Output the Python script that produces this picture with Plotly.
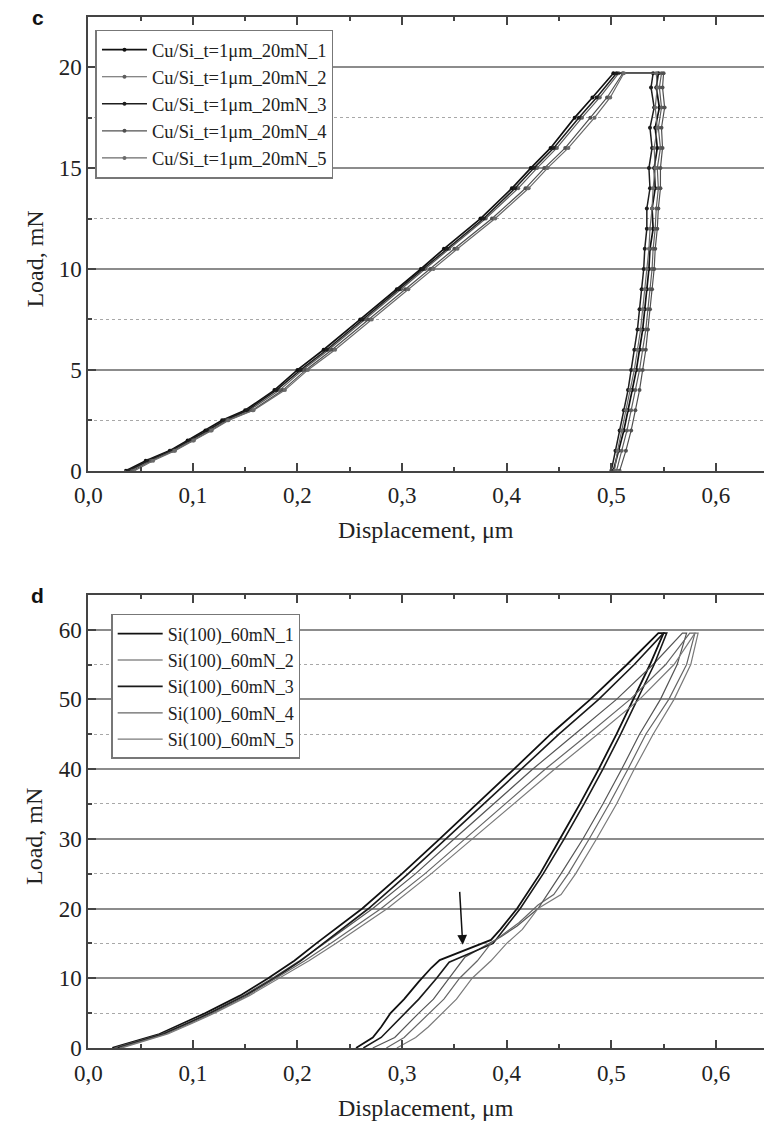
import plotly.graph_objects as go

# ---------------- Panel c : Cu/Si film, 20 mN ----------------
c_names = ["Cu/Si_t=1\u03bcm_20mN_1", "Cu/Si_t=1\u03bcm_20mN_2", "Cu/Si_t=1\u03bcm_20mN_3",
           "Cu/Si_t=1\u03bcm_20mN_4", "Cu/Si_t=1\u03bcm_20mN_5"]
c_load_up = [0, 0.5, 1, 1.5, 2, 2.5, 3, 4, 5, 6, 7.5, 9, 10, 11, 12.5, 14, 15, 16, 17.5, 18.5, 19.7]
c_disp_up = [
    [0.036, 0.055, 0.078, 0.095, 0.112, 0.128, 0.150, 0.178, 0.200, 0.225, 0.260, 0.295, 0.318, 0.340, 0.375, 0.405, 0.423, 0.442, 0.465, 0.482, 0.502],
    [0.040, 0.058, 0.080, 0.098, 0.115, 0.131, 0.154, 0.183, 0.205, 0.230, 0.265, 0.299, 0.322, 0.345, 0.380, 0.411, 0.429, 0.448, 0.472, 0.489, 0.507],
    [0.038, 0.057, 0.079, 0.097, 0.114, 0.130, 0.152, 0.180, 0.203, 0.228, 0.262, 0.297, 0.320, 0.343, 0.378, 0.408, 0.426, 0.445, 0.469, 0.486, 0.505],
    [0.042, 0.060, 0.082, 0.100, 0.117, 0.133, 0.157, 0.186, 0.208, 0.233, 0.268, 0.303, 0.327, 0.350, 0.386, 0.418, 0.436, 0.456, 0.480, 0.496, 0.511],
    [0.044, 0.062, 0.083, 0.101, 0.118, 0.134, 0.158, 0.188, 0.210, 0.236, 0.271, 0.306, 0.330, 0.353, 0.389, 0.421, 0.439, 0.459, 0.484, 0.499, 0.512],
]
c_load_down = [19.7, 19, 18, 17, 16, 15, 14, 13, 12, 11, 10, 9, 8, 7, 6, 5, 4, 3, 2, 1, 0]
c_disp_down = [
    [0.545, 0.543, 0.546, 0.542, 0.544, 0.541, 0.542, 0.539, 0.540, 0.537, 0.536, 0.534, 0.532, 0.530, 0.527, 0.524, 0.520, 0.516, 0.512, 0.507, 0.502],
    [0.548, 0.546, 0.548, 0.545, 0.547, 0.544, 0.545, 0.543, 0.542, 0.540, 0.539, 0.537, 0.535, 0.533, 0.530, 0.527, 0.523, 0.519, 0.515, 0.510, 0.505],
    [0.540, 0.538, 0.541, 0.537, 0.539, 0.536, 0.537, 0.534, 0.534, 0.532, 0.531, 0.529, 0.527, 0.525, 0.522, 0.519, 0.516, 0.512, 0.508, 0.504, 0.500],
    [0.550, 0.549, 0.551, 0.548, 0.549, 0.547, 0.547, 0.545, 0.544, 0.542, 0.541, 0.539, 0.537, 0.535, 0.533, 0.530, 0.527, 0.523, 0.519, 0.514, 0.508],
    [0.543, 0.544, 0.542, 0.544, 0.541, 0.542, 0.540, 0.539, 0.537, 0.536, 0.534, 0.532, 0.530, 0.528, 0.525, 0.522, 0.518, 0.514, 0.510, 0.506, 0.503],
]

# ---------------- Panel d : Si(100), 60 mN ----------------
d_names = ["Si(100)_60mN_1", "Si(100)_60mN_2", "Si(100)_60mN_3", "Si(100)_60mN_4", "Si(100)_60mN_5"]
d_load_up = [0, 1, 2, 3.5, 5, 7.5, 10, 12.5, 15, 20, 25, 30, 35, 40, 45, 50, 55, 59.5]
d_disp_up = [
    [0.023, 0.045, 0.068, 0.090, 0.112, 0.145, 0.172, 0.197, 0.218, 0.262, 0.300, 0.336, 0.372, 0.407, 0.442, 0.480, 0.515, 0.545],
    [0.025, 0.048, 0.070, 0.093, 0.115, 0.148, 0.176, 0.202, 0.226, 0.272, 0.313, 0.350, 0.388, 0.425, 0.465, 0.505, 0.540, 0.568],
    [0.028, 0.050, 0.072, 0.095, 0.117, 0.150, 0.178, 0.203, 0.225, 0.268, 0.306, 0.342, 0.378, 0.413, 0.450, 0.488, 0.522, 0.550],
    [0.030, 0.052, 0.074, 0.097, 0.119, 0.152, 0.180, 0.207, 0.232, 0.280, 0.322, 0.360, 0.398, 0.437, 0.478, 0.518, 0.552, 0.575],
    [0.032, 0.054, 0.076, 0.099, 0.121, 0.154, 0.183, 0.211, 0.237, 0.286, 0.328, 0.367, 0.406, 0.446, 0.487, 0.527, 0.560, 0.580],
]
d_load_down = [
    [59.5, 55, 50, 45, 40, 35, 30, 25, 20, 17, 15.5, 12.6, 11.5, 9.5, 7, 5, 3, 1.5, 0],
    [59.5, 55, 50, 45, 40, 35, 30, 25, 20, 17.5, 16, 13, 10, 7, 5, 3, 1.5, 0],
    [59.5, 55, 50, 45, 40, 35, 30, 25, 20, 17, 15, 12.3, 10, 7, 5, 3, 1.5, 0],
    [59.5, 55, 50, 45, 40, 35, 30, 25, 22, 20.5, 18, 15, 12.5, 10, 7, 5, 3, 1.5, 0],
    [59.5, 55, 50, 45, 40, 35, 30, 25, 22, 20, 17, 15, 12.5, 10, 7, 5, 3, 1.5, 0],
]
d_disp_down = [
    [0.550, 0.537, 0.521, 0.505, 0.488, 0.470, 0.451, 0.432, 0.410, 0.394, 0.385, 0.336, 0.328, 0.316, 0.302, 0.289, 0.280, 0.272, 0.256],
    [0.572, 0.563, 0.547, 0.527, 0.510, 0.492, 0.473, 0.452, 0.430, 0.410, 0.395, 0.360, 0.345, 0.330, 0.316, 0.303, 0.293, 0.272],
    [0.553, 0.541, 0.525, 0.509, 0.492, 0.474, 0.455, 0.435, 0.413, 0.397, 0.387, 0.345, 0.333, 0.316, 0.303, 0.290, 0.280, 0.263],
    [0.580, 0.572, 0.555, 0.533, 0.516, 0.498, 0.479, 0.459, 0.445, 0.430, 0.412, 0.385, 0.372, 0.355, 0.340, 0.326, 0.313, 0.302, 0.285],
    [0.583, 0.576, 0.560, 0.540, 0.522, 0.505, 0.486, 0.466, 0.452, 0.430, 0.415, 0.400, 0.385, 0.367, 0.352, 0.339, 0.325, 0.313, 0.295],
]

c_colors = ["#111111", "#5e5e5e", "#1e1e1e", "#505050", "#6a6a6a"]
c_widths = [1.7, 1.2, 1.5, 1.2, 1.2]
d_colors = ["#111111", "#555555", "#1a1a1a", "#666666", "#7a7a7a"]
d_widths = [1.8, 1.2, 1.6, 1.2, 1.2]

SERIF = "Liberation Serif, Times New Roman, serif"
SANS = "Liberation Sans, Arial, sans-serif"

fig = go.Figure()

for i in range(5):
    fig.add_trace(go.Scatter(
        x=c_disp_up[i] + c_disp_down[i], y=c_load_up + c_load_down,
        mode="lines+markers", name=c_names[i],
        line=dict(color=c_colors[i], width=c_widths[i]),
        marker=dict(size=4, color=c_colors[i]),
        xaxis="x", yaxis="y", legend="legend"))

for i in range(5):
    fig.add_trace(go.Scatter(
        x=d_disp_up[i] + d_disp_down[i], y=d_load_up + d_load_down[i],
        mode="lines", name=d_names[i],
        line=dict(color=d_colors[i], width=d_widths[i]),
        xaxis="x2", yaxis="y2", legend="legend2"))

tickfont = dict(family=SERIF, size=23, color="#222")
axis_line = dict(showline=True, linecolor="#444", linewidth=2)

xcommon = dict(range=[0, 0.646], dtick=0.1, tick0=0, tickformat=".1f",
               ticks="inside", ticklen=8, tickwidth=1.5, tickcolor="#444",
               minor=dict(dtick=0.05, ticks="inside", ticklen=4, tickcolor="#444", showgrid=False),
               showgrid=False, zeroline=False, mirror="allticks", ticklabelstandoff=3,
               tickfont=tickfont, domain=[0.099, 1.0], **axis_line)
ycommon = dict(ticks="inside", ticklen=8, tickwidth=1.5, tickcolor="#444",
               showgrid=True, gridcolor="#8c8c8c", gridwidth=1.5,
               zeroline=False, mirror=False, tickfont=tickfont, **axis_line)

fig.update_layout(
    width=764, height=1138,
    margin=dict(l=0, r=0, t=0, b=0),
    paper_bgcolor="white", plot_bgcolor="white",
    separators=", ",
    font=dict(family=SERIF, size=19, color="#222"),
    xaxis=dict(anchor="y", **xcommon),
    yaxis=dict(range=[0, 22.5], dtick=5, tick0=0, domain=[0.5815, 0.9851],
               minor=dict(dtick=2.5, ticks="inside", ticklen=4, tickcolor="#444",
                          showgrid=True, gridcolor="#a8a8a8", griddash="dot", gridwidth=1),
               anchor="x", **ycommon),
    xaxis2=dict(anchor="y2", **xcommon),
    yaxis2=dict(range=[0, 65], dtick=10, tick0=0, domain=[0.0685, 0.4713],
                minor=dict(dtick=5, ticks="inside", ticklen=4, tickcolor="#444",
                           showgrid=True, gridcolor="#a8a8a8", griddash="dot", gridwidth=1),
                anchor="x2", **ycommon),
    legend=dict(x=83 / 764, y=1 - 30 / 1138, xanchor="left", yanchor="top",
                bgcolor="white", bordercolor="#777", borderwidth=1.5,
                font=dict(family=SERIF, size=18.5, color="#222"),
                itemwidth=45, tracegroupgap=0),
    legend2=dict(x=99 / 764, y=1 - 621 / 1138, xanchor="left", yanchor="top",
                 bgcolor="white", bordercolor="#777", borderwidth=1.5,
                 font=dict(family=SERIF, size=18, color="#222"),
                 itemwidth=45, tracegroupgap=0),
    showlegend=True,
)

title_font = dict(family=SERIF, size=24, color="#222")
annos = [
    dict(text="<b>c</b>", x=16 / 764, y=1 - 4 / 1138, xref="paper", yref="paper",
         xanchor="left", yanchor="top", showarrow=False,
         font=dict(family=SANS, size=21, color="#111")),
    dict(text="<b>d</b>", x=15 / 764, y=1 - 589 / 1138, xref="paper", yref="paper",
         xanchor="left", yanchor="top", showarrow=False,
         font=dict(family=SANS, size=21, color="#111")),
    dict(text="Load, mN", x=21 / 764, y=1 - 262 / 1138, xref="paper", yref="paper",
         xanchor="center", yanchor="middle",
         textangle=-90, showarrow=False, font=title_font),
    dict(text="Load, mN", x=21 / 764, y=1 - 846 / 1138, xref="paper", yref="paper",
         xanchor="center", yanchor="middle",
         textangle=-90, showarrow=False, font=title_font),
    dict(text="Displacement, \u03bcm", x=420 / 764, y=1 - 536 / 1138, xref="paper", yref="paper",
         xanchor="center", yanchor="middle", showarrow=False, font=title_font),
    dict(text="Displacement, \u03bcm", x=420 / 764, y=1 - 1121 / 1138, xref="paper", yref="paper",
         xanchor="center", yanchor="middle", showarrow=False, font=title_font),
    dict(text="", x=0.358, y=14.8, xref="x2", yref="y2", axref="x2", ayref="y2",
         ax=0.355, ay=22.6, showarrow=True, arrowhead=2, arrowsize=1.3, arrowwidth=1.5,
         arrowcolor="#111"),
]
fig.update_layout(annotations=annos)

fig.write_html("out.html")
